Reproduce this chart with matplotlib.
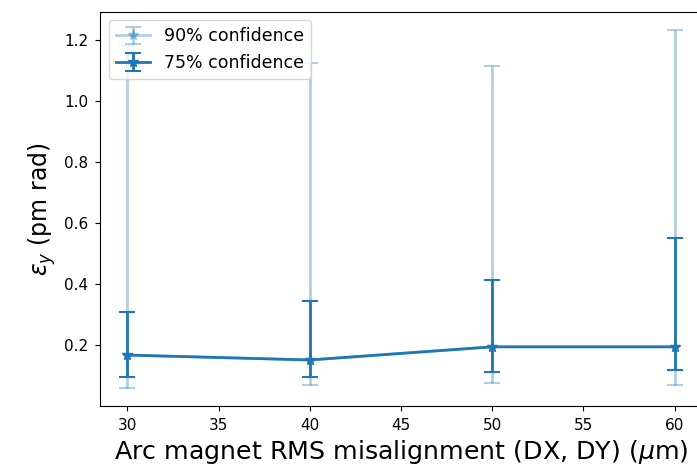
import matplotlib.pyplot as plt
import numpy as np

# misalignment levels (um) and vertical emittance stats (pm rad)
misalignment = [30, 40, 50, 60]
eps_median = [0.167, 0.151, 0.194, 0.194]
eps_lo75 = [0.094, 0.094, 0.112, 0.118]
eps_hi75 = [0.307, 0.343, 0.413, 0.550]
eps_lo90 = [0.059, 0.070, 0.077, 0.070]
eps_hi90 = [1.18, 1.125, 1.114, 1.233]

x = np.array(misalignment)
med = np.array(eps_median)

fig = plt.figure(figsize=(6.97, 4.74), dpi=100)
ax = fig.add_axes([0.1435, 0.1435, 0.8637, 0.8318])

err90 = [med - np.array(eps_lo90), np.array(eps_hi90) - med]
err75 = [med - np.array(eps_lo75), np.array(eps_hi75) - med]

ax.errorbar(x, med, yerr=err90, color='C0', alpha=0.35, marker='*',
            markersize=8, linewidth=2, elinewidth=2, capsize=6,
            capthick=1.5, label='90% confidence')
ax.errorbar(x, med, yerr=err75, color='C0', marker='*',
            markersize=8, linewidth=2, elinewidth=2, capsize=6,
            capthick=1.5, label='75% confidence')

ax.tick_params(labelsize=11, pad=5)
ax.set_xlabel(r'Arc magnet RMS misalignment (DX, DY) ($\mu$m)', fontsize=18.2)
ax.set_ylabel(r'$\epsilon_y$ (pm rad)', fontsize=17)
ax.legend(loc='upper left', fontsize=12.5)

fig.savefig('out.png', dpi=100)
